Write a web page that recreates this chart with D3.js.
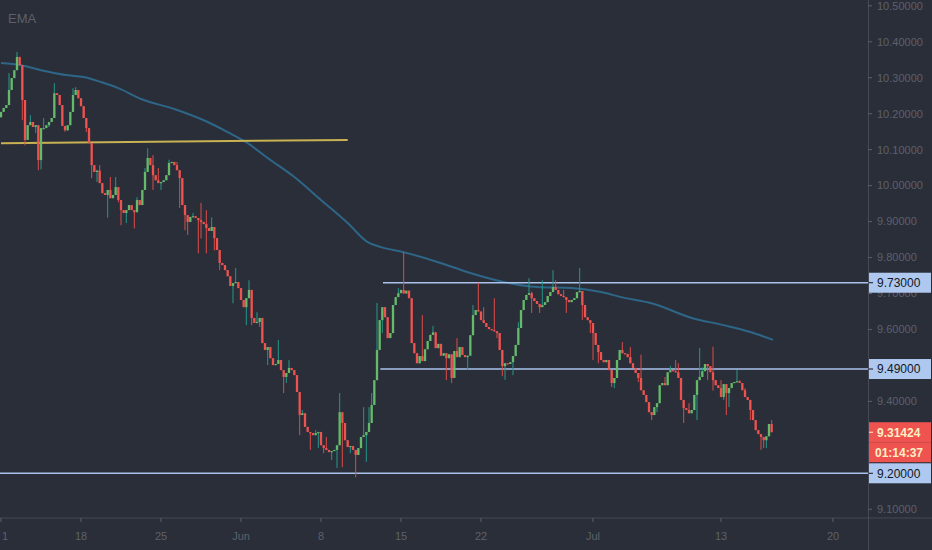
<!DOCTYPE html>
<html><head><meta charset="utf-8">
<script src="https://cdn.jsdelivr.net/npm/d3@7"></script>
<style>html,body{margin:0;padding:0;background:#2a2e39;overflow:hidden}</style>
</head><body>
<svg id="c" width="932" height="550"></svg>
<script>
// ---- data (4H bars, index 0 = 11 May 00:00) ----
const firstOpen = 10.19;
const closes = [
10.205,10.216,10.224,10.266,10.299,10.321,10.358,10.335,10.238,10.127,
10.168,10.177,10.163,10.168,10.071,10.160,10.160,10.168,10.177,10.188,
10.257,10.252,10.224,10.166,10.154,10.168,10.205,10.252,10.266,10.243,
10.221,10.188,10.160,10.118,10.057,10.038,10.042,10.007,9.979,9.974,
9.988,9.965,9.974,9.996,9.960,9.932,9.924,9.932,9.946,9.932,
9.926,9.960,9.946,9.988,10.038,10.077,10.057,10.029,10.015,10.007,
10.010,10.015,10.029,10.063,10.066,10.057,10.043,10.021,9.946,9.918,
9.899,9.913,9.915,9.910,9.904,9.899,9.893,9.882,9.874,9.885,
9.854,9.821,9.785,9.779,9.765,9.748,9.721,9.729,9.732,9.715,
9.682,9.662,9.687,9.710,9.632,9.618,9.621,9.632,9.562,9.543,
9.551,9.520,9.501,9.504,9.515,9.487,9.468,9.479,9.493,9.487,
9.473,9.426,9.362,9.367,9.329,9.315,9.312,9.306,9.312,9.315,
9.278,9.270,9.265,9.259,9.262,9.265,9.278,9.370,9.340,9.292,
9.273,9.276,9.265,9.251,9.270,9.301,9.306,9.315,9.340,9.390,
9.459,9.543,9.626,9.662,9.634,9.576,9.590,9.668,9.690,9.701,
9.710,9.700,9.708,9.687,9.562,9.534,9.506,9.526,9.512,9.545,
9.568,9.585,9.592,9.548,9.560,9.527,9.534,9.520,9.531,9.465,
9.540,9.523,9.551,9.529,9.523,9.527,9.584,9.640,9.654,9.650,
9.626,9.618,9.607,9.601,9.598,9.595,9.590,9.543,9.498,9.506,
9.504,9.509,9.526,9.557,9.604,9.654,9.682,9.696,9.701,9.687,
9.679,9.671,9.662,9.668,9.676,9.693,9.704,9.718,9.710,9.698,
9.693,9.690,9.682,9.676,9.682,9.687,9.704,9.707,9.668,9.634,
9.626,9.618,9.590,9.557,9.537,9.515,9.509,9.515,9.487,9.451,
9.465,9.515,9.543,9.534,9.532,9.523,9.506,9.493,9.479,9.465,
9.431,9.418,9.398,9.370,9.362,9.384,9.395,9.445,9.451,9.445,
9.481,9.487,9.484,9.481,9.465,9.404,9.381,9.376,9.367,9.376,
9.418,9.459,9.468,9.484,9.504,9.498,9.481,9.459,9.445,9.437,
9.412,9.448,9.423,9.437,9.451,9.454,9.456,9.451,9.431,9.412,
9.404,9.376,9.348,9.320,9.309,9.301,9.292,9.303,9.337,9.31424
];
// wick extremes: [bar index, price]
const wickHighs = [[3,10.313],[6,10.372],[11,10.196],[16,10.188],[20,10.285],[27,10.271],[28,10.274],
  [37,10.057],[41,10.024],[43,10.024],[51,9.968],[53,9.979],[54,10.049],[55,10.104],[57,10.085],
  [59,10.049],[63,10.072],[65,10.063],[66,10.066],[72,9.924],[75,9.952],[77,9.932],[79,9.912],
  [88,9.771],[93,9.737],[96,9.648],[104,9.571],[108,9.515],[113,9.376],[118,9.320],[122,9.301],
  [127,9.423],[136,9.384],[138,9.384],[139,9.423],[141,9.674],[149,9.715],[151,9.815],[158,9.640],
  [162,9.610],[171,9.576],[177,9.668],[179,9.730],[181,9.662],[185,9.687],[194,9.620],[198,9.743],
  [199,9.705],[203,9.737],[207,9.765],[208,9.737],[211,9.710],[217,9.771],[233,9.565],[236,9.551],
  [240,9.530],[249,9.468],[251,9.499],[253,9.515],[254,9.506],[258,9.395],[262,9.548],[263,9.495],
  [267,9.552],[270,9.459],[276,9.487],[277,9.459],[279,9.437],[289,9.348]];
const wickLows = [[0,10.195],[8,10.182],[9,10.112],[13,10.146],[14,10.043],[15,10.045],[18,10.163],
  [24,10.150],[25,10.152],[32,10.149],[34,10.021],[36,10.010],[40,9.911],[44,9.954],[45,9.890],
  [47,9.896],[50,9.881],[57,9.988],[60,9.988],[67,9.938],[69,9.876],[70,9.863],[74,9.812],[75,9.853],
  [77,9.812],[80,9.820],[82,9.765],[87,9.673],[92,9.612],[94,9.612],[97,9.607],[100,9.501],
  [106,9.423],[107,9.451],[112,9.306],[116,9.265],[119,9.270],[121,9.256],[124,9.237],[126,9.215],
  [128,9.217],[131,9.256],[133,9.189],[137,9.232],[143,9.590],[167,9.459],[169,9.451],[175,9.487],
  [186,9.576],[188,9.470],[189,9.460],[192,9.473],[199,9.646],[202,9.646],[212,9.646],[218,9.626],
  [221,9.590],[222,9.515],[224,9.506],[229,9.440],[230,9.437],[239,9.454],[244,9.348],[245,9.395],
  [246,9.370],[256,9.340],[261,9.348],[265,9.459],[267,9.430],[271,9.404],[272,9.362],[273,9.384],
  [281,9.348],[283,9.329],[285,9.265],[286,9.270],[287,9.270]];
// EMA: [bar index, value]
const emaPts = [[0,10.341],[7.5,10.335],[15,10.321],[25,10.307],[31,10.302],[37.5,10.288],[44,10.271],
  [52.5,10.241],[65,10.213],[77.5,10.177],[85,10.149],[92.5,10.118],[100,10.077],[110,10.024],
  [120,9.960],[130,9.896],[137.5,9.843],[142.5,9.829],[151,9.815],[164,9.787],[176,9.757],
  [188.5,9.732],[201,9.718],[214,9.715],[225,9.704],[232.5,9.690],[244,9.673],[259,9.632],
  [271,9.612],[281,9.593],[289.5,9.571]];
const trendLine = [[0,10.118],[130,10.127]];
const levels = [9.73, 9.49, 9.20];
const levelStart = [144, 143, 0];
const lastPrice = 9.31424;
const timerText = "01:14:37";
const timeTickIdx = [0,30,60,90,120,150,180,222,270,312];
const timeTickLab = ["1","18","25","Jun","8","15","22","Jul","13","20"];
const priceTicks = [9.1,9.4,9.6,9.7,9.8,9.9,10.0,10.1,10.2,10.3,10.4,10.5];

// ---- drawing ----
const W = 932, H = 550, plotR = 868, axisY = 518;
const svg = d3.select('#c');
svg.append('rect').attr('width', W).attr('height', H).attr('fill', '#2a2e39');
const x = d3.scaleLinear().domain([0, 30]).range([1, 81]);
const y = d3.scaleLinear().domain([9.2, 10.4]).range([473.3, 41.8]);

svg.append('defs').append('clipPath').attr('id', 'clip')
  .append('rect').attr('x', 0).attr('y', 0).attr('width', plotR).attr('height', axisY);
const plot = svg.append('g').attr('clip-path', 'url(#clip)');

const hiMap = new Map(wickHighs), loMap = new Map(wickLows);
const bars = closes.map((c, i) => {
  const o = i === 0 ? firstOpen : closes[i - 1];
  const hi = Math.max(o, c, hiMap.has(i) ? hiMap.get(i) : -Infinity);
  const lo = Math.min(o, c, loMap.has(i) ? loMap.get(i) : Infinity);
  return {i, o, c, hi, lo, up: c >= o};
});

// EMA line
plot.append('path').datum(emaPts)
  .attr('d', d3.line().x(d => x(d[0])).y(d => y(d[1])).curve(d3.curveMonotoneX))
  .attr('fill', 'none').attr('stroke', '#2e6688').attr('stroke-width', 2);

// trend line (yellow)
plot.append('path').datum(trendLine)
  .attr('d', d3.line().x(d => x(d[0])).y(d => y(d[1])))
  .attr('fill', 'none').attr('stroke', '#c8b252').attr('stroke-width', 2);

// horizontal levels
plot.selectAll('line.lvl').data(levels).join('line').attr('class', 'lvl')
  .attr('x1', (d, i) => x(levelStart[i]) - 2).attr('x2', plotR)
  .attr('y1', d => y(d)).attr('y2', d => y(d))
  .attr('stroke', '#a9c3ec').attr('stroke-width', 1.5);

// candles
const g = plot.append('g');
g.selectAll('rect.w').data(bars).join('rect').attr('class', 'w')
  .attr('x', d => x(d.i) - 0.5).attr('width', 1)
  .attr('y', d => y(d.hi)).attr('height', d => Math.max(1, y(d.lo) - y(d.hi)))
  .attr('fill', d => d.up ? '#26958a' : '#d94c49');
g.selectAll('rect.b').data(bars).join('rect').attr('class', 'b')
  .attr('x', d => x(d.i) - 1.15).attr('width', 2.3)
  .attr('y', d => y(Math.max(d.o, d.c)))
  .attr('height', d => Math.max(1.2, Math.abs(y(d.o) - y(d.c))))
  .attr('fill', d => d.up ? '#66bb6a' : '#ef5350');

// axes lines
svg.append('line').attr('x1', 0).attr('x2', W).attr('y1', axisY).attr('y2', axisY)
  .attr('stroke', '#454955').attr('stroke-width', 1);
svg.append('line').attr('x1', plotR + 0.5).attr('x2', plotR + 0.5).attr('y1', 0).attr('y2', H)
  .attr('stroke', '#454955').attr('stroke-width', 1);

// price axis ticks
const font = "'Liberation Sans', Arial, sans-serif";
const pt = svg.append('g');
pt.selectAll('line').data(priceTicks).join('line')
  .attr('x1', plotR).attr('x2', plotR + 4).attr('y1', d => y(d)).attr('y2', d => y(d))
  .attr('stroke', '#5d606b');
pt.selectAll('text').data(priceTicks).join('text')
  .attr('x', 877).attr('y', d => y(d)).attr('dy', '0.35em')
  .attr('font-family', font).attr('font-size', 11).attr('fill', '#5d606b')
  .text(d => d.toFixed(5));

// time axis ticks
const tt = svg.append('g');
tt.selectAll('line').data(timeTickIdx).join('line')
  .attr('x1', d => x(d)).attr('x2', d => x(d)).attr('y1', axisY).attr('y2', axisY + 4)
  .attr('stroke', '#5d606b');
tt.selectAll('text').data(timeTickIdx).join('text')
  .attr('x', (d, i) => i === 0 ? x(d) + 1 : x(d)).attr('y', 540)
  .attr('text-anchor', (d, i) => i === 0 ? 'start' : 'middle')
  .attr('font-family', font).attr('font-size', 11).attr('fill', '#5d606b')
  .text((d, i) => timeTickLab[i]);

// level labels
const lb = svg.append('g');
levels.forEach(v => {
  lb.append('rect').attr('x', plotR + 1).attr('y', y(v) - 10).attr('width', W - plotR - 2).attr('height', 20)
    .attr('fill', '#aec8f0');
  lb.append('line').attr('x1', plotR + 1).attr('x2', plotR + 5).attr('y1', y(v)).attr('y2', y(v)).attr('stroke', '#131722');
  lb.append('text').attr('x', 877).attr('y', y(v)).attr('dy', '0.36em')
    .attr('font-family', font).attr('font-size', 12).attr('fill', '#131722').text(v.toFixed(5));
});
// last price + countdown
const yl = y(lastPrice);
lb.append('rect').attr('x', plotR + 1).attr('y', yl - 10).attr('width', W - plotR - 2).attr('height', 20).attr('fill', '#ef5350');
lb.append('line').attr('x1', plotR + 1).attr('x2', plotR + 5).attr('y1', yl).attr('y2', yl).attr('stroke', '#fdf0c4');
lb.append('text').attr('x', 877).attr('y', yl).attr('dy', '0.36em')
  .attr('font-family', font).attr('font-size', 12).attr('font-weight', 'bold').attr('fill', '#fdf0c4').text(lastPrice.toFixed(5));
lb.append('rect').attr('x', plotR + 1).attr('y', yl + 10).attr('width', W - plotR - 2).attr('height', 20).attr('fill', '#ef5350');
lb.append('text').attr('x', 875).attr('y', yl + 20).attr('dy', '0.36em')
  .attr('font-family', font).attr('font-size', 12).attr('font-weight', 'bold').attr('fill', '#fdf0c4').text(timerText);

// legend
svg.append('text').attr('x', 8).attr('y', 23).attr('font-family', font).attr('font-size', 13)
  .attr('fill', '#5d606b').text('EMA');
</script>
</body></html>
